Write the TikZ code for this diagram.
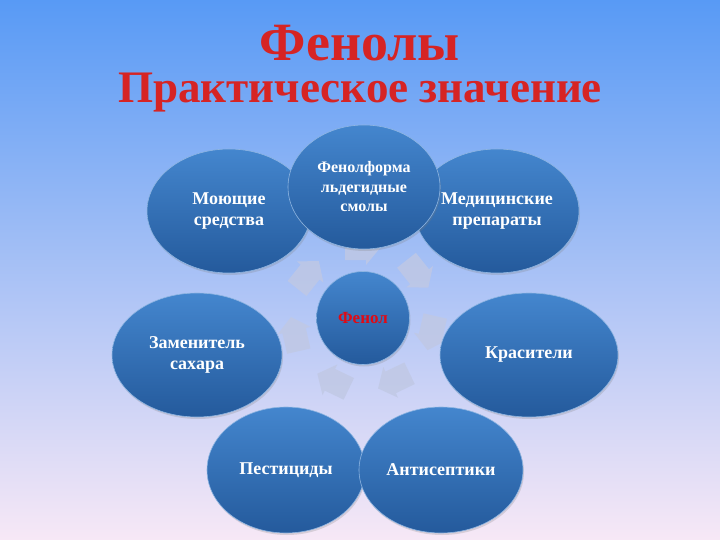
\documentclass[tikz,border=0pt]{standalone}
\usepackage{fontspec}
\setmainfont{Liberation Serif}
\usetikzlibrary{shapes.geometric,shadows,calc}
\definecolor{bgtop}{RGB}{88,154,245}
\definecolor{bgmid}{RGB}{172,206,242}
\definecolor{bgbot}{RGB}{247,232,246}
\definecolor{elltop}{RGB}{68,134,206}
\definecolor{ellbot}{RGB}{36,90,156}
\definecolor{arrowc}{RGB}{192,200,228}
\definecolor{titlered}{RGB}{214,36,36}
\definecolor{phenred}{RGB}{225,10,20}
\tikzset{
  bubble/.style={ellipse, top color=elltop, bottom color=ellbot, draw=elltop!60!white,
    line width=0.6pt, text=white, align=center, inner sep=0pt,
    font=\bfseries\fontsize{18}{20.5}\selectfont,
    drop shadow={shadow xshift=1pt, shadow yshift=-2pt, opacity=0.25}},
  cycarrow/.style={fill=arrowc, fill opacity=0.8, draw=none},
  titletext/.style={anchor=base, text=titlered, font=\bfseries\fontsize{48}{56}\selectfont},
}
\begin{document}
\begin{tikzpicture}[x=1pt,y=-1pt]
\useasboundingbox (0,0) rectangle (720,540);
\shade[top color=bgtop, middle color=bgmid, bottom color=bgbot] (0,0) rectangle (720,540);

% title
\node[titletext] (t1) at (360,61) {\resizebox{200pt}{!}{Фенолы}};
\node[titletext] (t2) at (360,103) {\resizebox{484pt}{!}{Практическое значение}};

% centre cycle arrows
\coordinate (c) at (363,318);
\foreach \i in {0,...,6} {
  \pgfmathsetmacro\th{90-\i*360/7}
  \coordinate (a\i) at ($(c)+({70*cos(\th)},{-70*sin(\th)})$);
  \begin{scope}[shift={(a\i)}, rotate=\th-90]
    \fill[cycarrow] (-18,-12) -- (3,-12) -- (3,-17) -- (17,0) -- (3,17) -- (3,12) -- (-18,12) -- cycle;
  \end{scope}
}

% bubbles
\node[bubble, minimum width=164pt, minimum height=124pt] (mo) at (229,211) {Моющие\\средства};
\node[bubble, minimum width=164pt, minimum height=124pt] (me) at (497,211) {Медицинские\\препараты};
\node[bubble, minimum width=152pt, minimum height=124pt, font=\bfseries\fontsize{16}{19.5}\selectfont] (ff) at (364,187) {Фенолформа\\льдегидные\\смолы};
\node[bubble, minimum width=170pt, minimum height=124pt] (za) at (197,355) {Заменитель\\сахара};
\node[bubble, minimum width=178pt, minimum height=124pt] (kr) at (529,355) {Красители};
\node[bubble, minimum width=158pt, minimum height=126pt] (pe) at (286,470) {Пестициды};
\node[bubble, minimum width=164pt, minimum height=126pt] (an) at (441,470) {Антисептики};
\node[bubble, circle, minimum size=93pt, text=phenred, font=\bfseries\fontsize{17}{20}\selectfont] (ph) at (c) {Фенол};
\end{tikzpicture}
\end{document}
